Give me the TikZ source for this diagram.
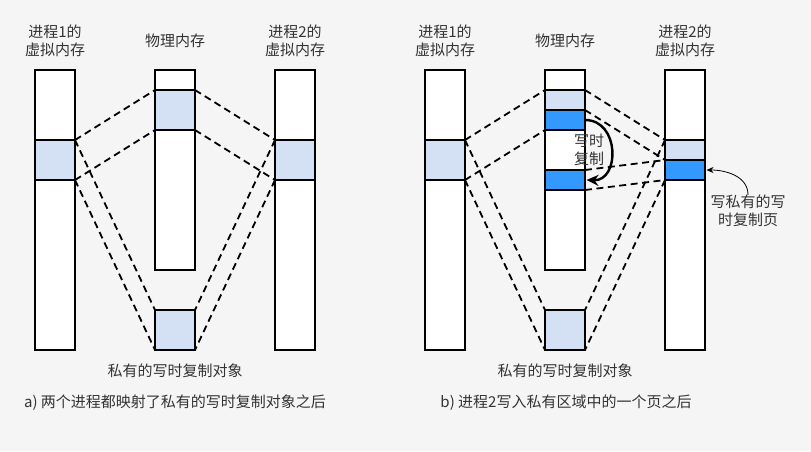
\documentclass[tikz,border=0pt]{standalone}
\usepackage{fontspec}
\setmainfont{Noto Sans CJK SC}
\usetikzlibrary{arrows.meta}
\definecolor{bgcolor}{HTML}{F5F5F5}
\definecolor{pagelight}{HTML}{D4E1F5}
\definecolor{pageblue}{HTML}{3399FF}
\definecolor{textcolor}{HTML}{333333}
\tikzset{
  mem/.style={draw=black, line width=1.2pt, fill=white, minimum width=40pt, inner sep=0pt, outer sep=0pt},
  shared/.style={mem, fill=pagelight},
  copied/.style={mem, fill=pageblue},
  label/.style={text=textcolor, font=\fontsize{15pt}{18pt}\selectfont, align=center, inner sep=0pt},
  map/.style={dash pattern=on 7pt off 4.5pt, line width=1.8pt},
  cow/.style={-{Stealth[length=12pt,width=11pt]}, line width=2.4pt},
  note/.style={-{Stealth[length=7pt,width=6pt]}, line width=0.8pt}
}
\begin{document}
\begin{tikzpicture}[x=1pt,y=-1pt]
  \fill[bgcolor] (0,0) rectangle (811,451);
  \useasboundingbox (0,0) rectangle (811,451);
  % a) both processes map the private object
  \node[mem, minimum height=280pt] (a1) at (55,210) {};
  \node[shared, minimum height=40pt] (a1s) at (55,160) {};
  \node[mem, minimum height=200pt] (a2) at (175,170) {};
  \node[shared, minimum height=40pt] (a2s) at (175,110) {};
  \node[shared, minimum height=40pt] (a3) at (175,330) {};
  \node[mem, minimum height=280pt] (a4) at (295,210) {};
  \node[shared, minimum height=40pt] (a4s) at (295,160) {};
  \node[label] (a1t) at (55,41) {进程1的\\虚拟内存};
  \node[label] (a2t) at (175,41) {物理内存};
  \node[label] (a4t) at (295,41) {进程2的\\虚拟内存};
  \node[label] (a3t) at (175,371) {私有的写时复制对象};
  \node[label] (acap) at (175,403) {a) 两个进程都映射了私有的写时复制对象之后};
  \begin{scope}[map]
    \draw (a1s.north east) -- (a2s.north west);
    \draw (a1s.south east) -- (a2s.south west);
    \draw (a2s.north east) -- (a4s.north west);
    \draw (a2s.south east) -- (a4s.south west);
    \draw (a1s.north east) -- (a3.north west);
    \draw (a1s.south east) -- (a3.south west);
    \draw (a4s.north west) -- (a3.north east);
    \draw (a4s.south west) -- (a3.south east);
  \end{scope}
  % b) process 2 writes a private page
  \node[mem, minimum height=280pt] (b1) at (445,210) {};
  \node[shared, minimum height=40pt] (b1s) at (445,160) {};
  \node[mem, minimum height=200pt] (b2) at (565,170) {};
  \node[shared, minimum height=20pt] (b2s) at (565,100) {};
  \node[copied, minimum height=20pt] (b2w) at (565,120) {};
  \node[copied, minimum height=20pt] (b2c) at (565,180) {};
  \node[shared, minimum height=40pt] (b3) at (565,330) {};
  \node[mem, minimum height=280pt] (b4) at (685,210) {};
  \node[shared, minimum height=20pt] (b4s) at (685,150) {};
  \node[copied, minimum height=20pt] (b4w) at (685,170) {};
  \node[label] (b1t) at (445,41) {进程1的\\虚拟内存};
  \node[label] (b2t) at (565,41) {物理内存};
  \node[label] (b4t) at (685,41) {进程2的\\虚拟内存};
  \node[label] (b3t) at (565,371) {私有的写时复制对象};
  \node[label] (bcap) at (566,403) {b) 进程2写入私有区域中的一个页之后};
  \node[label] (cowt) at (589,150) {写时\\复制};
  \node[label] (notet) at (748,211) {写私有的写\\时复制页};
  \begin{scope}[map]
    \draw (b1s.north east) -- (b2s.north west);
    \draw (b1s.south east) -- (b2w.south west);
    \draw (b2s.north east) -- (b4s.north west);
    \draw (b2w.north east) -- (b4s.south west);
    \draw (b2c.north east) -- (b4w.north west);
    \draw (b2c.south east) -- (b4w.south west);
    \draw (b1s.north east) -- (b3.north west);
    \draw (b1s.south east) -- (b3.south west);
    \draw (b4s.north west) -- (b3.north east);
    \draw (b4w.south west) -- (b3.south east);
  \end{scope}
  \draw[cow] (b2w.east) .. controls (620,120) and (620,181) .. ([xshift=1.5pt]b2c.east);
  \draw[note] (notet.north) to[out=90,in=0] ([xshift=1.5pt]b4w.east);
\end{tikzpicture}
\end{document}
